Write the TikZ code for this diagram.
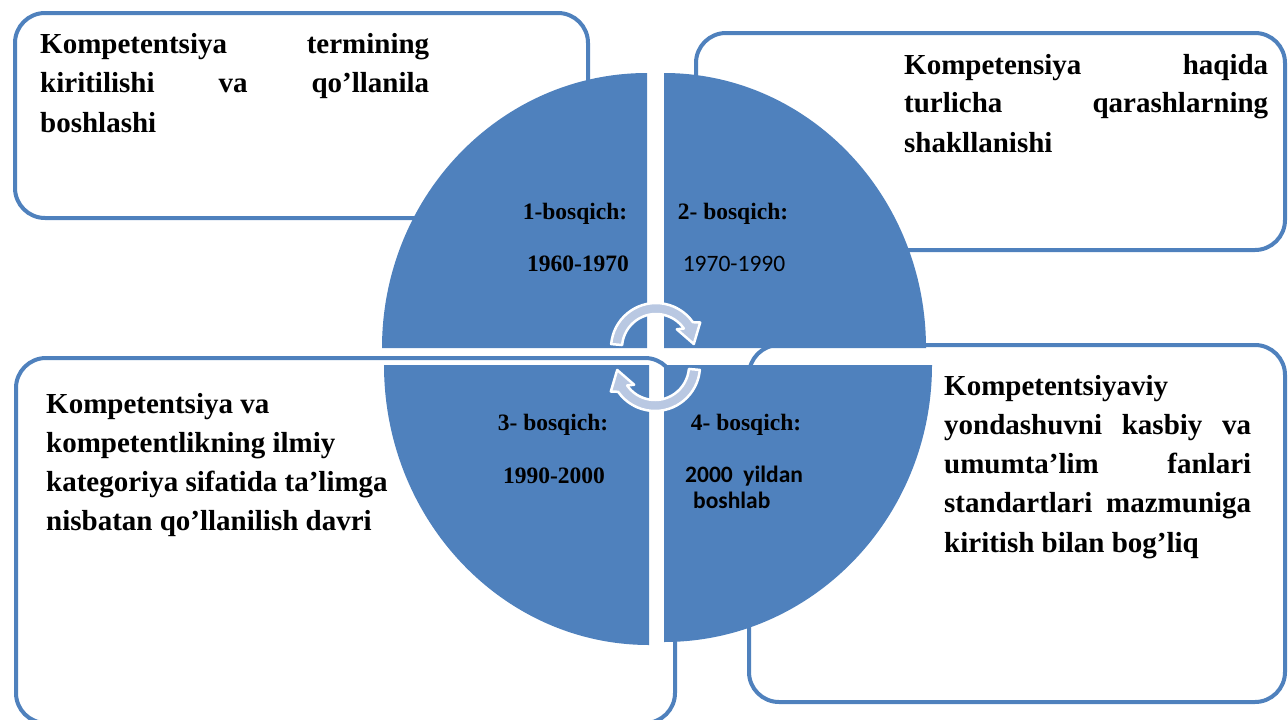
\documentclass[tikz,border=0pt]{standalone}
\usepackage{fontspec}
\setmainfont{Liberation Serif}
\newfontfamily\calib{Carlito}
\definecolor{blu}{RGB}{79,129,189}
\definecolor{arr}{RGB}{185,200,226}
\begin{document}
\begin{tikzpicture}[x=1pt,y=-1pt,
  bx/.style={draw=blu, line width=4pt, fill=white, rounded corners=30pt},
  quad/.style={fill=blu},
  cyc/.style={fill=arr, draw=white, line width=2.5pt, line join=round},
  boxtext/.style={anchor=base west, inner sep=0pt},
  stage/.style={anchor=base, inner sep=0pt, font=\bfseries\fontsize{23.5}{28}\selectfont},
  stagec/.style={anchor=base west, inner sep=0pt, font=\calib\bfseries\fontsize{23.5}{28}\selectfont}]
\useasboundingbox (0,0) rectangle (1288,720);
% boxes
\draw[bx] (15,13) rectangle (588,218);
\draw[bx] (696,33) rectangle (1285,250);
\draw[bx] (16,358) rectangle (675,723);
\draw[bx] (749,345) rectangle (1285,702);
% quadrants
\fill[quad] (647,348) -- ++(-265,0) arc[start angle=180, end angle=270, x radius=265, y radius=275] -- cycle;
\fill[quad] (664,348) -- ++(0,-275) arc[start angle=270, end angle=360, x radius=262, y radius=275] -- cycle;
\fill[quad] (649,365) -- ++(-265,0) arc[start angle=180, end angle=90, x radius=265, y radius=280] -- cycle;
\fill[quad] (664,365) -- ++(268,0) arc[start angle=0, end angle=90, x radius=268, y radius=277] -- cycle;
% cycle arrows
\begin{scope}[shift={(656,348)}, x=1pt, y=1pt]
\filldraw[cyc] (175:45) arc[start angle=175, end angle=35, radius=45] -- (30:51) -- (6:38) -- (42:28) -- (35:34) arc[start angle=35, end angle=175, radius=34] -- cycle;
\end{scope}
\begin{scope}[shift={(655,366)}, x=1pt, y=1pt, rotate=180]
\filldraw[cyc] (175:45) arc[start angle=175, end angle=35, radius=45] -- (30:51) -- (6:38) -- (42:28) -- (35:34) arc[start angle=35, end angle=175, radius=34] -- cycle;
\end{scope}
% box texts
\node[boxtext] (t1) at (40,53) {\begin{minipage}[t]{389pt}\bfseries\fontsize{29}{39.5}\selectfont
\hbox to\linewidth{Kompetentsiya\hfill termining}
\hbox to\linewidth{kiritilishi\hfill va\hfill qo’llanila}
\hbox{boshlashi}\end{minipage}};
\node[boxtext] (t2) at (904,74) {\begin{minipage}[t]{364pt}\bfseries\fontsize{29}{39}\selectfont
\hbox to\linewidth{Kompetensiya\hfill haqida}
\hbox to\linewidth{turlicha\hfill qarashlarning}
\hbox{shakllanishi}\end{minipage}};
\node[boxtext] (t3) at (46,413) {\begin{minipage}[t]{400pt}\bfseries\fontsize{29}{39}\selectfont
\hbox{Kompetentsiya va}
\hbox{kompetentlikning ilmiy}
\hbox{kategoriya sifatida ta’limga}
\hbox{nisbatan qo’llanilish davri}\end{minipage}};
\node[boxtext] (t4) at (944,395) {\begin{minipage}[t]{307pt}\bfseries\fontsize{29}{39.25}\selectfont
\hbox{Kompetentsiyaviy}
\hbox to\linewidth{yondashuvni\hfill kasbiy\hfill va}
\hbox to\linewidth{umumta’lim\hfill fanlari}
\hbox to\linewidth{standartlari\hfill mazmuniga}
\hbox{kiritish bilan bog’liq}\end{minipage}};
% stage labels
\node[stage] (s1) at (575,219) {1-bosqich:};
\node[stage] (y1) at (578,271) {1960-1970};
\node[stage] (s2) at (733,219) {2- bosqich:};
\node[anchor=base, inner sep=0pt, font=\calib\fontsize{23.5}{28}\selectfont] (y2) at (734,271) {1970-1990};
\node[stage] (s3) at (553,430) {3- bosqich:};
\node[stage] (y3) at (554,483) {1990-2000};
\node[stage] (s4) at (746,430) {4- bosqich:};
\node[stagec] (y4a) at (685,482) {2000\ \ yildan};
\node[stagec] (y4b) at (693,508) {boshlab};
\end{tikzpicture}
\end{document}
